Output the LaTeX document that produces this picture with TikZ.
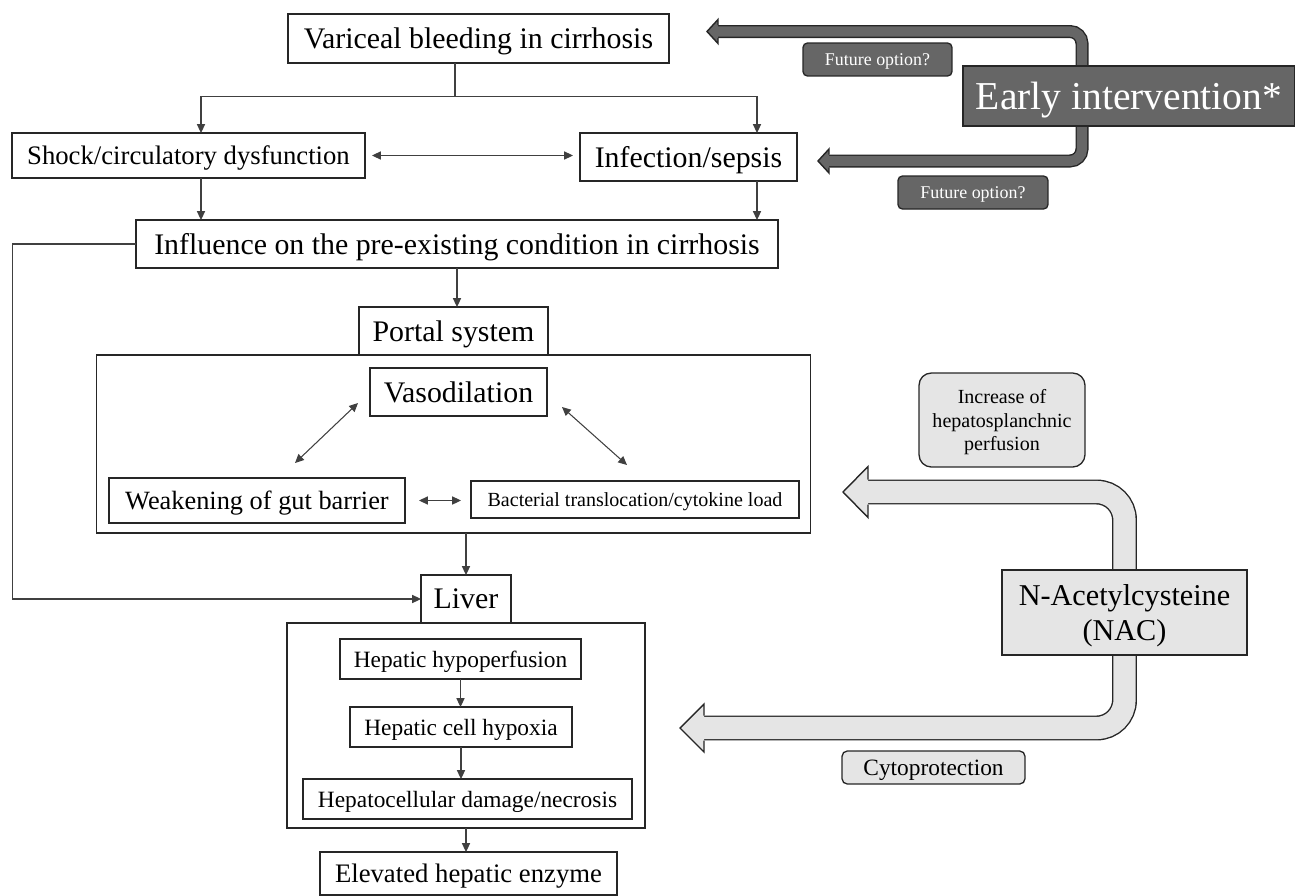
\documentclass[tikz,border=0pt]{standalone}
\usepackage{fontspec}
\setmainfont{Liberation Serif}
\usetikzlibrary{arrows.meta,backgrounds,positioning}

\definecolor{darkfill}{gray}{0.40}
\definecolor{lightfill}{gray}{0.90}
\definecolor{linegray}{gray}{0.25}

\begin{document}
\begin{tikzpicture}[
    x=0.02cm, y=-0.02cm,
    box/.style={draw=black!85, line width=0.75pt, fill=white, inner sep=0pt,
      outer sep=0pt, align=center, text depth=0pt},
    groupbox/.style={draw=black!85, line width=0.9pt, inner sep=0pt, outer sep=0pt},
    bigtxt/.style={font=\fontsize{17}{20}\selectfont},
    midtxt/.style={font=\fontsize{15.2}{18}\selectfont},
    smalltxt/.style={font=\fontsize{13.3}{16}\selectfont},
    darkbox/.style={box, fill=darkfill, text=white},
    optbox/.style={darkbox, rounded corners=2.5pt, minimum height=0.66cm,
      font=\fontsize{10.2}{12}\selectfont},
    lightbox/.style={box, fill=lightfill},
    conn/.style={draw=linegray, line width=0.6pt},
    arrow/.style={conn, -{Triangle[length=5pt,width=4.6pt]}},
    biarrow/.style={conn, {Triangle[length=5pt,width=4.6pt]}-{Triangle[length=5pt,width=4.6pt]}},
    darkrim/.style={line width=7.4pt, draw=black!85, rounded corners=6.8pt},
    darkcore/.style={line width=5.8pt, draw=darkfill, rounded corners=6.8pt},
    lightrim/.style={line width=14.2pt, draw=black!85, rounded corners=15.9pt},
    lightcore/.style={line width=12.6pt, draw=lightfill, rounded corners=15.9pt},
    headrim/.style={draw=black!85, line width=0.8pt, line join=miter}
  ]
  \useasboundingbox (0,0) rectangle (1295,896);

  % main chain
  \node[box, bigtxt, minimum width=7.62cm, minimum height=0.98cm] (var) at (478.5,38.5)
    {Variceal bleeding in cirrhosis};
  \node[box, midtxt, minimum width=7.06cm, minimum height=0.90cm] (shock) at (188.5,155.5)
    {Shock/circulatory dysfunction};
  \node[box, bigtxt, minimum width=4.34cm, minimum height=0.96cm] (infect) at (688.5,157)
    {Infection/sepsis};
  \node[box, bigtxt, minimum width=12.84cm, minimum height=0.96cm] (influence) at (457,244)
    {Influence on the pre-existing condition in cirrhosis};

  % portal system
  \node[box, bigtxt, minimum width=3.78cm, minimum height=0.96cm] (portal) at (453.5,331)
    {Portal system};
  \node[groupbox, below=0pt of portal, minimum width=14.28cm, minimum height=3.56cm] (portalbox) {};
  \node[box, bigtxt, minimum width=3.54cm, minimum height=0.96cm] (vaso) at (458.5,392)
    {Vasodilation};
  \node[box, font=\fontsize{15}{18}\selectfont, minimum width=5.92cm, minimum height=0.90cm]
    (weak) at (257,500.5) {Weakening of gut barrier};
  \node[box, font=\fontsize{11.4}{14}\selectfont, minimum width=6.56cm, minimum height=0.74cm]
    (bact) at (635,499.5) {Bacterial translocation/cytokine load};

  % liver
  \node[box, bigtxt, minimum width=1.80cm, minimum height=0.96cm] (liver) at (466,599) {Liver};
  \node[groupbox, below=0pt of liver, minimum width=7.16cm, minimum height=4.10cm] (liverbox) {};
  \node[box, smalltxt, minimum width=4.82cm, minimum height=0.80cm] (hypo) at (460.5,659)
    {Hepatic hypoperfusion};
  \node[box, smalltxt, minimum width=4.44cm, minimum height=0.80cm] (hypox) at (461,727)
    {Hepatic cell hypoxia};
  \node[box, smalltxt, minimum width=6.58cm, minimum height=0.80cm] (damage) at (467.5,799)
    {Hepatocellular damage/necrosis};
  \node[box, midtxt, minimum width=5.94cm, minimum height=0.86cm] (enzyme) at (468.5,873.5)
    {Elevated hepatic enzyme};

  % interventions
  \node[darkbox, font=\fontsize{22.5}{26}\selectfont, minimum width=6.64cm, minimum height=1.20cm]
    (early) at (1129,96) {Early intervention*};
  \node[optbox, minimum width=2.98cm] (opt1) at (877.5,59.5) {Future option?};
  \node[optbox, minimum width=3.00cm] (opt2) at (973,192.5) {Future option?};
  \node[lightbox, rounded corners=7pt, font=\fontsize{11.4}{13.3}\selectfont,
    minimum width=3.32cm, minimum height=1.88cm] (perf) at (1002,420)
    {Increase of\\hepatosplanchnic\\perfusion};
  \node[lightbox, font=\fontsize{17.2}{19.8}\selectfont, minimum width=4.90cm,
    minimum height=1.70cm] (nac) at (1124.5,612.5) {N-Acetylcysteine\\(NAC)};
  \node[lightbox, rounded corners=3pt, smalltxt, minimum width=3.66cm, minimum height=0.66cm]
    (cyto) at (933.5,767.5) {Cytoprotection};

  % thin connectors
  \coordinate (split) at (455,96.5);
  \coordinate (lbr) at (201,96.5);
  \coordinate (rbr) at (757,96.5);
  \draw[conn] (var.south -| split) -- (split);
  \draw[arrow] (split) -| (lbr |- shock.north);
  \draw[arrow] (split) -| (rbr |- infect.north);
  \draw[biarrow, shorten <=4pt, shorten >=4pt] (shock.east) -- (shock.east -| infect.west);
  \draw[arrow] (lbr |- shock.south) -- (lbr |- influence.north);
  \draw[arrow] (rbr |- infect.south) -- (rbr |- influence.north);
  \draw[arrow] (influence.south) -- (influence.south |- portal.north);
  \draw[arrow] (influence.west) -- ++(-124,0) |- (liver.west);
  \draw[biarrow] ([shift={(-12,-13)}]vaso.south west) -- ([shift={(38,-15)}]weak.north);
  \draw[biarrow] ([shift={(15,-9)}]vaso.south east) -- ([shift={(-8,-16)}]bact.north);
  \draw[biarrow, shorten <=8pt, shorten >=5.7pt] (weak.east) -- (weak.east -| bact.west);
  \draw[arrow] (liver |- portalbox.south) -- (liver.north);
  \draw[arrow] (hypo.south) -- (hypo.south |- hypox.north);
  \draw[arrow] (hypox.south) -- (hypox.south |- damage.north);
  \draw[arrow] (liverbox.south) -- (liverbox.south |- enzyme.north);

  % block arrows
  \coordinate (eshaft) at (1082,0);
  \coordinate (toptip) at (707,31.5);
  \coordinate (sepsistip) at (818,161);
  \coordinate (perftip) at (843,492);
  \coordinate (cytotip) at (680,728);
  \begin{scope}[on background layer]
    \draw[darkrim] (eshaft |- early.center) -- (1082,31.5) -- (714,31.5);
    \draw[darkcore] (eshaft |- early.center) -- (1082,31.5) -- (714,31.5);
    \fill[darkfill] (718,19.5) -- (toptip) -- (718,43.5) -- cycle;
    \draw[headrim] (718,25) -- (718,19.5) -- (toptip) -- (718,43.5) -- (718,38);

    \draw[darkrim] (eshaft |- early.center) -- (1082,161) -- (825,161);
    \draw[darkcore] (eshaft |- early.center) -- (1082,161) -- (825,161);
    \fill[darkfill] (829,149) -- (sepsistip) -- (829,173) -- cycle;
    \draw[headrim] (829,154.5) -- (829,149) -- (sepsistip) -- (829,173) -- (829,167.5);

    \draw[lightrim] (nac.center) -- (1124.5,492) -- (862,492);
    \draw[lightcore] (nac.center) -- (1124.5,492) -- (862,492);
    \fill[lightfill] (868,466.5) -- (perftip) -- (868,517.5) -- cycle;
    \draw[headrim] (868,479.5) -- (868,466.5) -- (perftip) -- (868,517.5) -- (868,504.5);

    \draw[lightrim] (nac.center) -- (1124.5,728) -- (698,728);
    \draw[lightcore] (nac.center) -- (1124.5,728) -- (698,728);
    \fill[lightfill] (704,704) -- (cytotip) -- (704,752) -- cycle;
    \draw[headrim] (704,715.5) -- (704,704) -- (cytotip) -- (704,752) -- (704,740.5);
  \end{scope}
\end{tikzpicture}
\end{document}
